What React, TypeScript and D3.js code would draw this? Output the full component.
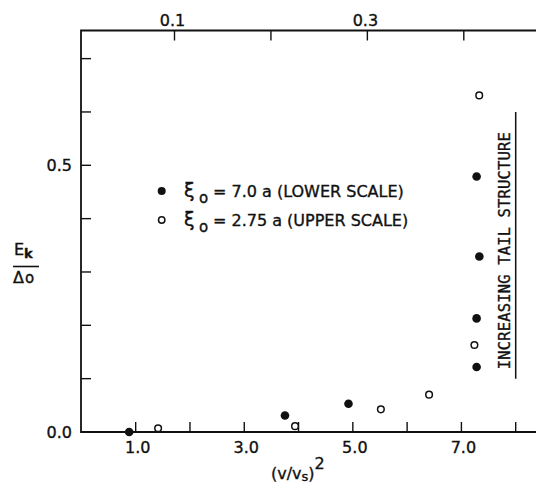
import * as d3 from 'd3';

// lower scale, (v/vs)^2 : filled points, xi0 = 7.0a
const lowerX = [0.88, 3.75, 4.92, 7.28, 7.28, 7.33, 7.28];
const lowerY = [0.0, 0.031, 0.053, 0.122, 0.213, 0.329, 0.479];
// upper scale : open points, xi0 = 2.75a
const upperX = [0.083, 0.225, 0.314, 0.364, 0.411, 0.416];
const upperY = [0.007, 0.011, 0.0425, 0.07, 0.163, 0.631];

const lowerTicks = [1, 2, 3, 4, 5, 6, 7, 8];
const lowerLabels = [1, 3, 5, 7];
const upperTicks = [0.1, 0.2, 0.3, 0.4];
const upperLabels = [0.1, 0.3];
const yTicks = [0.1, 0.2, 0.3, 0.4, 0.5, 0.6, 0.7];
const yLabels = [0, 0.5];
const legendLabels = ['= 7.0 a (LOWER SCALE)', '= 2.75 a (UPPER SCALE)'];

const W = 536;
const H = 483;
const left = 81;
const top = 30.5;
const bottom = 432;
const right = 560;
const font = "'DejaVu Sans', sans-serif";

export default function App() {
  const x = d3.scaleLinear().domain([0, 8]).range([81.4, 515.7]);
  const xu = d3.scaleLinear().domain([0.1, 0.4]).range([174.5, 463.8]);
  const y = d3.scaleLinear().domain([0, 0.5]).range([bottom, 165.3]);
  const tl = 10;
  const fmt = d3.format('.1f');

  return (
    <svg width={W} height={H} style={{ position: 'absolute', left: 0, top: 0, background: '#fff' }}
      fontFamily={font} fill="#111" stroke="none">
      {/* frame */}
      <path d={`M${right},${top}H${left}V${bottom}H${right}`} fill="none" stroke="#111" strokeWidth={1.8} />

      <g stroke="#111" strokeWidth={0.35}>
        {/* bottom axis */}
        {lowerTicks.map(t => (
          <line key={'b' + t} x1={x(t)} x2={x(t)} y1={bottom} y2={bottom - tl} strokeWidth={1.4} />
        ))}
        {lowerLabels.map(t => (
          <text key={'bl' + t} x={x(t) + 2} y={453} fontSize={16} textAnchor="middle">{fmt(t)}</text>
        ))}

        {/* top axis */}
        {upperTicks.map(t => (
          <line key={'t' + t} x1={xu(t)} x2={xu(t)} y1={top} y2={top + tl} strokeWidth={1.4} />
        ))}
        {upperLabels.map(t => (
          <text key={'tl' + t} x={xu(t) - 2} y={26} fontSize={16} textAnchor="middle">{fmt(t)}</text>
        ))}

        {/* left axis */}
        {yTicks.map(t => (
          <line key={'l' + t} x1={left} x2={left + tl} y1={y(t)} y2={y(t)} strokeWidth={1.4} />
        ))}
        {yLabels.map(t => (
          <text key={'ll' + t} x={72} y={y(t) + 6} fontSize={16} textAnchor="end">{fmt(t)}</text>
        ))}

        {/* y label */}
        <text x={14} y={255} fontSize={16}>E<tspan fontSize={13} fontWeight="bold" dy={3}>k</tspan></text>
        <line x1={13} x2={39} y1={266.5} y2={266.5} strokeWidth={1.6} />
        <text x={13} y={283} fontSize={16}>Δ<tspan fontSize={15} dx={1}>o</tspan></text>

        {/* x label */}
        <text x={271} y={479} fontSize={16}>(v/v<tspan fontSize={13} dy={2}>s</tspan><tspan dy={-2}>)</tspan><tspan dy={-10}>2</tspan></text>

        {/* legend */}
        <circle cx={161.7} cy={191} r={4} stroke="none" />
        <circle cx={161.7} cy={220} r={3.2} fill="none" strokeWidth={1.5} />
        {legendLabels.map((s, i) => (
          <g key={'lg' + i} transform={`translate(0,${i * 29})`}>
            <text x={184} y={197} fontSize={19}>ξ</text>
            <text x={199} y={203} fontSize={15}>o</text>
            <text x={213} y={197} fontSize={16}>{s}</text>
          </g>
        ))}

        {/* annotation */}
        <line x1={x(8)} x2={x(8)} y1={y(0.1)} y2={y(0.6)} strokeWidth={1.5} />
        <text transform={`translate(510,${y(0.34)}) rotate(-90)`} fontSize={15.5} textAnchor="middle"
          fontFamily="'DejaVu Sans Mono', monospace" textLength={237} lengthAdjust="spacing">INCREASING TAIL STRUCTURE</text>
      </g>

      {/* data */}
      {lowerX.map((v, i) => (
        <circle key={'f' + i} cx={x(v)} cy={y(lowerY[i])} r={4.3} fill="#111" />
      ))}
      {upperX.map((v, i) => (
        <circle key={'o' + i} cx={xu(v)} cy={y(upperY[i])} r={3.3} fill="#fff" stroke="#111" strokeWidth={1.5} />
      ))}
    </svg>
  );
}
